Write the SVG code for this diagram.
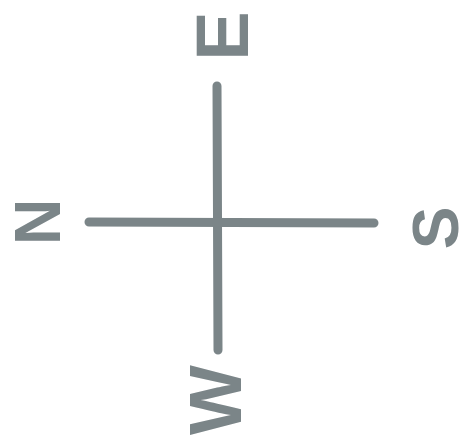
<svg xmlns="http://www.w3.org/2000/svg" width="474" height="442" viewBox="0 0 474 442">
<style>
.ln{stroke:#7b8588;stroke-width:9;stroke-linecap:round;fill:none}
.lb{font-family:"Liberation Sans",Arial,sans-serif;font-weight:bold;font-size:74px;fill:#7b8588;text-anchor:middle;dominant-baseline:central}
.sm{font-size:64px}
</style>
<rect width="474" height="442" fill="#ffffff"/>
<g id="connectors">
<line class="ln" x1="217" y1="86" x2="218" y2="350"/>
<line class="ln" x1="89" y1="222" x2="374" y2="223"/>
</g>
<g id="E"><text class="lb" transform="translate(222,36) rotate(-90)">E</text></g>
<g id="N"><text class="lb sm" transform="translate(38,222) rotate(-90)">N</text></g>
<g id="S"><text class="lb sm" transform="translate(436,228) rotate(-90)">S</text></g>
<g id="W"><text class="lb" transform="translate(215,400) rotate(-90)">W</text></g>
</svg>
